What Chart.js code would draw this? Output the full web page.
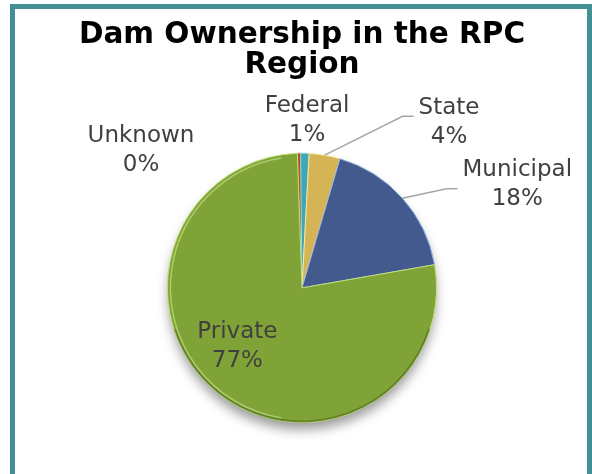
<!DOCTYPE html>
<html>
<head>
<meta charset="utf-8">
<script src="https://cdn.jsdelivr.net/npm/chart.js@4"></script>
<style>
  body { margin: 0; background: #ffffff; }
  #moldura {
    position: absolute; left: 10px; top: 4px;
    width: 572px; height: 520px;
    border: 5px solid #428f96;
  }
  #grafico { position: absolute; left: 0; top: 0; }
</style>
</head>
<body>
<div id="moldura"></div>
<canvas id="grafico" width="592" height="474"></canvas>
<script>
// Dados (percentuais aproximados)
const categorias = ['Unknown', 'Federal', 'State', 'Municipal', 'Private'];
const percentuais = [0.4, 1.0, 3.7, 17.7, 77.2];
const cores = ['#b3541d', '#3fa6b7', '#d5b456', '#435a8e', '#7fa336'];
const bordas = ['#d9884f', '#8fd6e2', '#fbe9a0', '#98b4e6', '#c4e07a'];

// Posição dos rótulos: [fator do raio, desvio do ângulo em graus]
const posRotulos = [[1.571, -48.3], [1.241, 0.5], [1.645, 31.9], [1.773, 16.2], [0.65, 8.6]];
const linhaGuia = [false, false, true, true, false];
const guiaDy = [0, 0, -6, 4, 0];

// Sombra por baixo da pizza
const sombraPizza = {
  id: 'sombraPizza',
  beforeDatasetsDraw(chart) {
    const arc = chart.getDatasetMeta(0).data[0];
    if (!arc) return;
    const ctx = chart.ctx;
    ctx.save();
    ctx.shadowColor = 'rgba(0,0,0,0.4)';
    ctx.shadowBlur = 12;
    ctx.shadowOffsetY = 8;
    ctx.fillStyle = cores[4];
    ctx.beginPath();
    ctx.arc(arc.x, arc.y, arc.outerRadius - 1, 0, Math.PI * 2);
    ctx.fill();
    ctx.restore();
  }
};

// Rótulos com linhas de chamada (e um leve brilho na borda)
const rotulosPizza = {
  id: 'rotulosPizza',
  afterDatasetsDraw(chart) {
    const ctx = chart.ctx;
    const meta = chart.getDatasetMeta(0);
    ctx.save();
    const a0 = meta.data[0];
    if (a0) {
      ctx.strokeStyle = 'rgba(230,255,180,0.45)';
      ctx.lineWidth = 1.5;
      ctx.beginPath();
      ctx.arc(a0.x, a0.y, a0.outerRadius - 3, Math.PI * 0.55, Math.PI * 1.45);
      ctx.stroke();
      ctx.strokeStyle = 'rgba(40,60,10,0.35)';
      ctx.lineWidth = 2;
      ctx.beginPath();
      ctx.arc(a0.x, a0.y, a0.outerRadius - 1, Math.PI * 0.1, Math.PI * 0.9);
      ctx.stroke();
    }
    ctx.font = '23px "DejaVu Sans"';
    ctx.fillStyle = '#404040';
    ctx.textAlign = 'center';
    ctx.textBaseline = 'middle';
    meta.data.forEach((arc, i) => {
      const meio = (arc.startAngle + arc.endAngle) / 2;
      const ang = meio + posRotulos[i][1] * Math.PI / 180;
      const r = arc.outerRadius * posRotulos[i][0];
      const cx = arc.x + Math.cos(ang) * r;
      const cy = arc.y + Math.sin(ang) * r;
      const linhas = [categorias[i], Math.round(percentuais[i]) + '%'];
      const alt = 29;
      linhas.forEach((t, k) => {
        ctx.fillText(t, cx, cy + (k - 0.5) * alt);
      });
      if (linhaGuia[i]) {
        const larg = Math.max(...linhas.map(t => ctx.measureText(t).width));
        const esq = cx - larg / 2;
        const y = cy + guiaDy[i];
        ctx.strokeStyle = '#a6a6a6';
        ctx.lineWidth = 1.5;
        ctx.beginPath();
        ctx.moveTo(arc.x + Math.cos(meio) * arc.outerRadius, arc.y + Math.sin(meio) * arc.outerRadius);
        ctx.lineTo(esq - 16, y);
        ctx.lineTo(esq - 5, y);
        ctx.stroke();
      }
    });
    ctx.restore();
  }
};

new Chart(document.getElementById('grafico'), {
  type: 'pie',
  data: {
    labels: categorias,
    datasets: [{
      data: percentuais,
      backgroundColor: cores,
      borderColor: bordas,
      borderWidth: 1
    }]
  },
  options: {
    responsive: false,
    animation: false,
    devicePixelRatio: 1,
    rotation: -2,
    layout: { padding: { top: 0, left: 32, right: 20, bottom: 51 } },
    plugins: {
      legend: { display: false },
      tooltip: { enabled: false },
      title: {
        display: true,
        text: ['Dam Ownership in the RPC', 'Region'],
        color: '#000000',
        font: { family: 'DejaVu Sans', size: 29.5, weight: 'bold', lineHeight: 1.03 },
        padding: { top: 20, bottom: 72 }
      }
    }
  },
  plugins: [sombraPizza, rotulosPizza]
});
</script>
</body>
</html>
